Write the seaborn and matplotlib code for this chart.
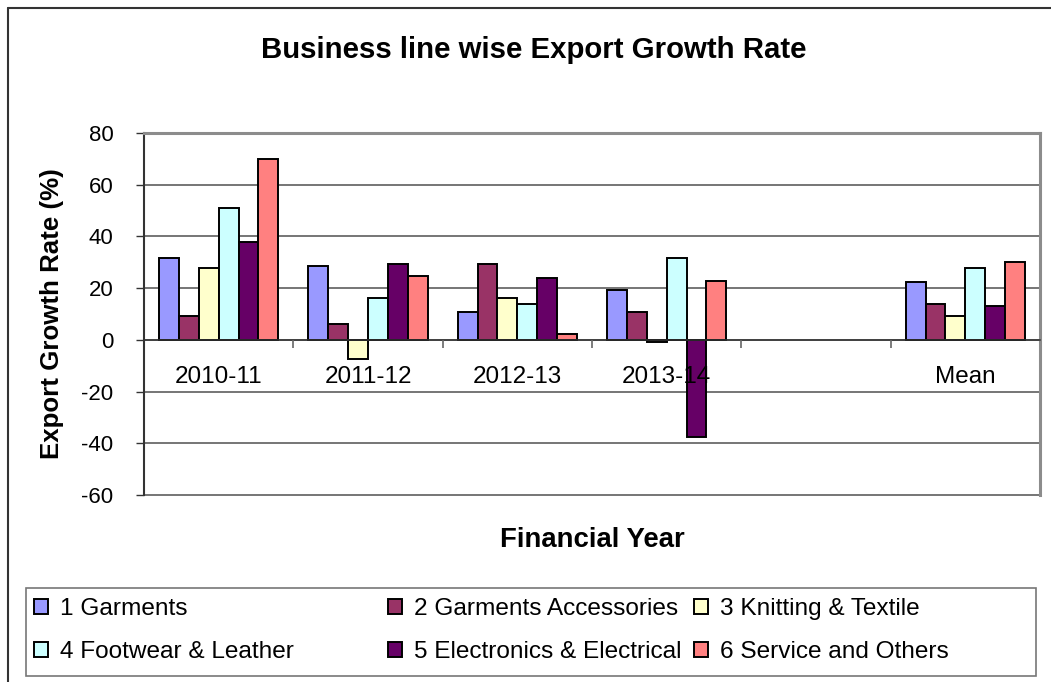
import matplotlib
matplotlib.use("Agg")
import matplotlib.pyplot as plt
import pandas as pd
import seaborn as sns
from matplotlib.lines import Line2D
from matplotlib.patches import Rectangle

# Financial years plus the mean column (an empty slot separates them)
categories = ["2010-11", "2011-12", "2012-13", "2013-14", "Mean"]
slot_order = ["2010-11", "2011-12", "2012-13", "2013-14", " ", "Mean"]

business_lines = ["1 Garments", "2 Garments Accessories", "3 Knitting & Textile",
                  "4 Footwear & Leather", "5 Electronics & Electrical",
                  "6 Service and Others"]

garments = [31.8, 28.5, 10.6, 19.2, 22.4]
garments_accessories = [9.3, 6.3, 29.2, 10.6, 13.8]
knitting_textile = [27.7, -7.4, 16.0, -0.8, 9.1]
footwear_leather = [50.9, 16.2, 13.8, 31.8, 27.7]
electronics_electrical = [37.7, 29.2, 23.8, -37.5, 13.1]
service_others = [69.9, 24.6, 2.3, 22.9, 30.0]

colors = ["#9999FF", "#993366", "#FFFFCC", "#CCFFFF", "#660066", "#FF8080"]

series = [garments, garments_accessories, knitting_textile,
          footwear_leather, electronics_electrical, service_others]
rows = []
for name, vals in zip(business_lines, series):
    for cat, v in zip(categories, vals):
        rows.append({"year": cat, "line": name, "rate": v})
df = pd.DataFrame(rows)

sns.set_theme(style="white")
plt.rcParams["font.family"] = ["Liberation Sans", "DejaVu Sans"]
plt.rcParams["axes.unicode_minus"] = False
plt.rcParams["text.color"] = "black"
plt.rcParams["axes.labelcolor"] = "black"

W, H = 1051, 682
fig = plt.figure(figsize=(W / 100, H / 100), dpi=100)
fig.patch.set_facecolor("white")

left, right, top, bottom = 144, 1040, 133, 495
ax = fig.add_axes([left / W, 1 - bottom / H, (right - left) / W, (bottom - top) / H])

sns.barplot(data=df, x="year", y="rate", hue="line", order=slot_order,
            hue_order=business_lines, palette=colors, width=0.8,
            edgecolor="black", linewidth=1.4, saturation=1, errorbar=None,
            ax=ax)

handles, labels = ax.get_legend_handles_labels()
ax.get_legend().remove()

# y axis and horizontal gridlines (kept behind the bars)
ax.set_ylim(-60, 80)
ax.set_yticks(range(-60, 81, 20))
ax.yaxis.grid(True, color="#505050", linewidth=1.1)
ax.set_axisbelow(True)
for gl in ax.get_ygridlines():
    gl.set_clip_on(False)
ax.tick_params(axis="y", which="major", left=True, length=6, width=1,
               color="#333333", pad=16, labelsize=16, labelcolor="black")

# category axis sits on the zero line, its labels drawn over the bars
ax.set_xlim(-0.5, len(slot_order) - 0.5)
ax.spines["bottom"].set_position(("data", 0))
ax.spines["bottom"].set_color("#333333")
ax.spines["bottom"].set_linewidth(1.1)
ax.set_xticks(range(len(slot_order)))
ax.set_xticklabels(slot_order)
ax.set_xticks([i + 0.5 for i in range(len(slot_order) - 1)], minor=True)
ax.tick_params(axis="x", which="major", bottom=True, length=0, pad=19,
               labelsize=17.5, labelcolor="black")
ax.tick_params(axis="x", which="minor", bottom=True, length=6, width=1.2,
               color="#666666", direction="out")
ax.xaxis.set_zorder(5)

ax.spines["left"].set_color("#333333")
ax.spines["left"].set_linewidth(1.5)
for s in ("top", "right"):
    ax.spines[s].set_color("#8C8C8C")
    ax.spines[s].set_linewidth(2.2)

ax.set_ylabel("Export Growth Rate (%)", fontsize=18.6, fontweight="bold")
ax.yaxis.set_label_coords((52 - left) / (right - left), 0.5)
ax.yaxis.label.set_va("center")
ax.set_xlabel("Financial Year", fontsize=19.8, fontweight="bold")
ax.xaxis.set_label_coords(0.5, (bottom - 540) / (bottom - top))
ax.xaxis.label.set_va("center")

fig.text(534 / W, 1 - 50 / H, "Business line wise Export Growth Rate",
         ha="center", va="center", fontsize=21.2, fontweight="bold",
         color="black")

# legend: three columns of two entries, inside one framed box
col_x = [34, 388, 694]
order = [[0, 3], [1, 4], [2, 5]]
for cx, idx in zip(col_x, order):
    fig.legend([handles[i] for i in idx], [labels[i] for i in idx],
               loc="upper left", bbox_to_anchor=(cx / W, 1 - 598 / H),
               frameon=False, fontsize=17.6, handlelength=0.56,
               handleheight=0.56, handletextpad=0.5, labelspacing=0.85,
               borderpad=0, borderaxespad=0)
fig.add_artist(Rectangle((26 / W, 1 - 676 / H), (1036 - 26) / W, (676 - 588) / H,
                         transform=fig.transFigure, fill=False,
                         edgecolor="#777777", linewidth=1.2))

# outer chart border (left and top edges)
fig.add_artist(Line2D([8 / W, 8 / W], [0, 1 - 8 / H], transform=fig.transFigure,
                      color="#333333", linewidth=1.5))
fig.add_artist(Line2D([8 / W, 1], [1 - 8 / H, 1 - 8 / H], transform=fig.transFigure,
                      color="#333333", linewidth=1.5))

fig.savefig("out.png", dpi=100)
